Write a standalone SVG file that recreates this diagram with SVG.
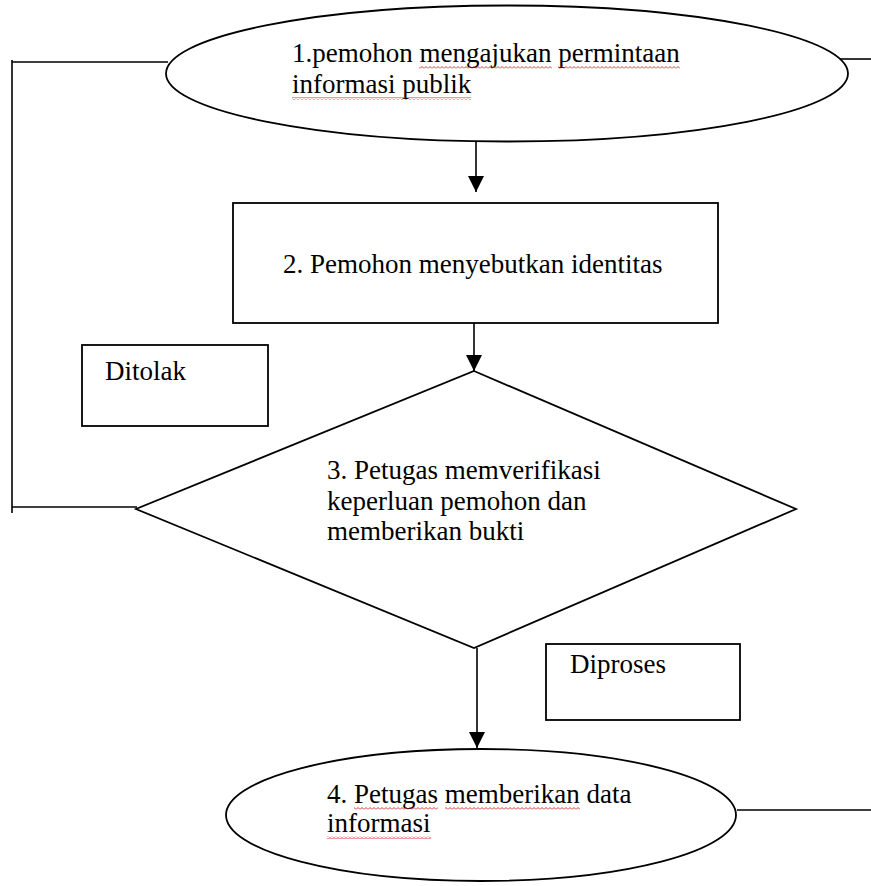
<svg xmlns="http://www.w3.org/2000/svg" width="871" height="886" viewBox="0 0 871 886">
  <style>
    .shape { fill: #ffffff; stroke: #000000; stroke-width: 1.8; }
    .line { fill: none; stroke: #000000; stroke-width: 1.6; }
    .label { font-size: 27px; fill: #000000; }
    .squiggle { fill: url(#sq); }
  </style>
  <defs>
    <marker id="arrow" markerUnits="userSpaceOnUse" markerWidth="16" markerHeight="18" refX="16" refY="8" orient="auto">
      <path d="M0,0 L16,8 L0,16 Z" fill="#000000"/>
    </marker>
    <pattern id="sq" width="4" height="3" patternUnits="userSpaceOnUse">
      <path d="M0,2.5 L2,0.5 L4,2.5" fill="none" stroke="#d42020" stroke-width="0.9"/>
    </pattern>
  </defs>
  <rect width="871" height="886" fill="#ffffff"/>

  <g id="connectors">
    <path class="line" d="M12,62 L168,62"/>
    <path class="line" d="M12,60 L12,513"/>
    <path class="line" d="M12,507 L137,507"/>
    <path class="line" d="M840,59 L871,59"/>
    <path class="line" d="M737,810 L871,810"/>
    <path class="line" d="M476,142 L476,192" marker-end="url(#arrow)"/>
    <path class="line" d="M474,323 L474,371" marker-end="url(#arrow)"/>
    <path class="line" d="M477,648 L477,748" marker-end="url(#arrow)"/>
  </g>

  <g font-family="'Liberation Serif', 'DejaVu Serif', serif">
  <g id="node1">
    <ellipse class="shape" cx="507" cy="73.5" rx="341" ry="68"/>
    <text class="label" x="292" y="62">1.pemohon mengajukan permintaan</text>
    <text class="label" x="292" y="93">informasi publik</text>
    <rect class="squiggle" x="419" y="66" width="133" height="3"/>
    <rect class="squiggle" x="558" y="66" width="122" height="3"/>
    <rect class="squiggle" x="292" y="97" width="179" height="3"/>
  </g>

  <g id="node2">
    <rect class="shape" x="233" y="203" width="485" height="120"/>
    <text class="label" x="283" y="273">2. Pemohon menyebutkan identitas</text>
  </g>

  <g id="ditolak">
    <rect class="shape" x="82" y="345" width="186" height="81"/>
    <text class="label" x="105" y="380">Ditolak</text>
  </g>

  <g id="node3">
    <polygon class="shape" points="474,371 796,509 474,648 136,509"/>
    <text class="label" x="327" y="479">3. Petugas memverifikasi</text>
    <text class="label" x="327" y="510">keperluan pemohon dan</text>
    <text class="label" x="327" y="540">memberikan bukti</text>
  </g>

  <g id="diproses">
    <rect class="shape" x="546" y="644" width="194" height="76"/>
    <text class="label" x="570" y="673">Diproses</text>
  </g>

  <g id="node4">
    <ellipse class="shape" cx="481" cy="815" rx="255" ry="66"/>
    <text class="label" x="327" y="803">4. Petugas memberikan data</text>
    <text class="label" x="327" y="832">informasi</text>
    <rect class="squiggle" x="354" y="807" width="84" height="3"/>
    <rect class="squiggle" x="445" y="807" width="135" height="3"/>
    <rect class="squiggle" x="327" y="836" width="104" height="3"/>
  </g>
  </g>
</svg>
